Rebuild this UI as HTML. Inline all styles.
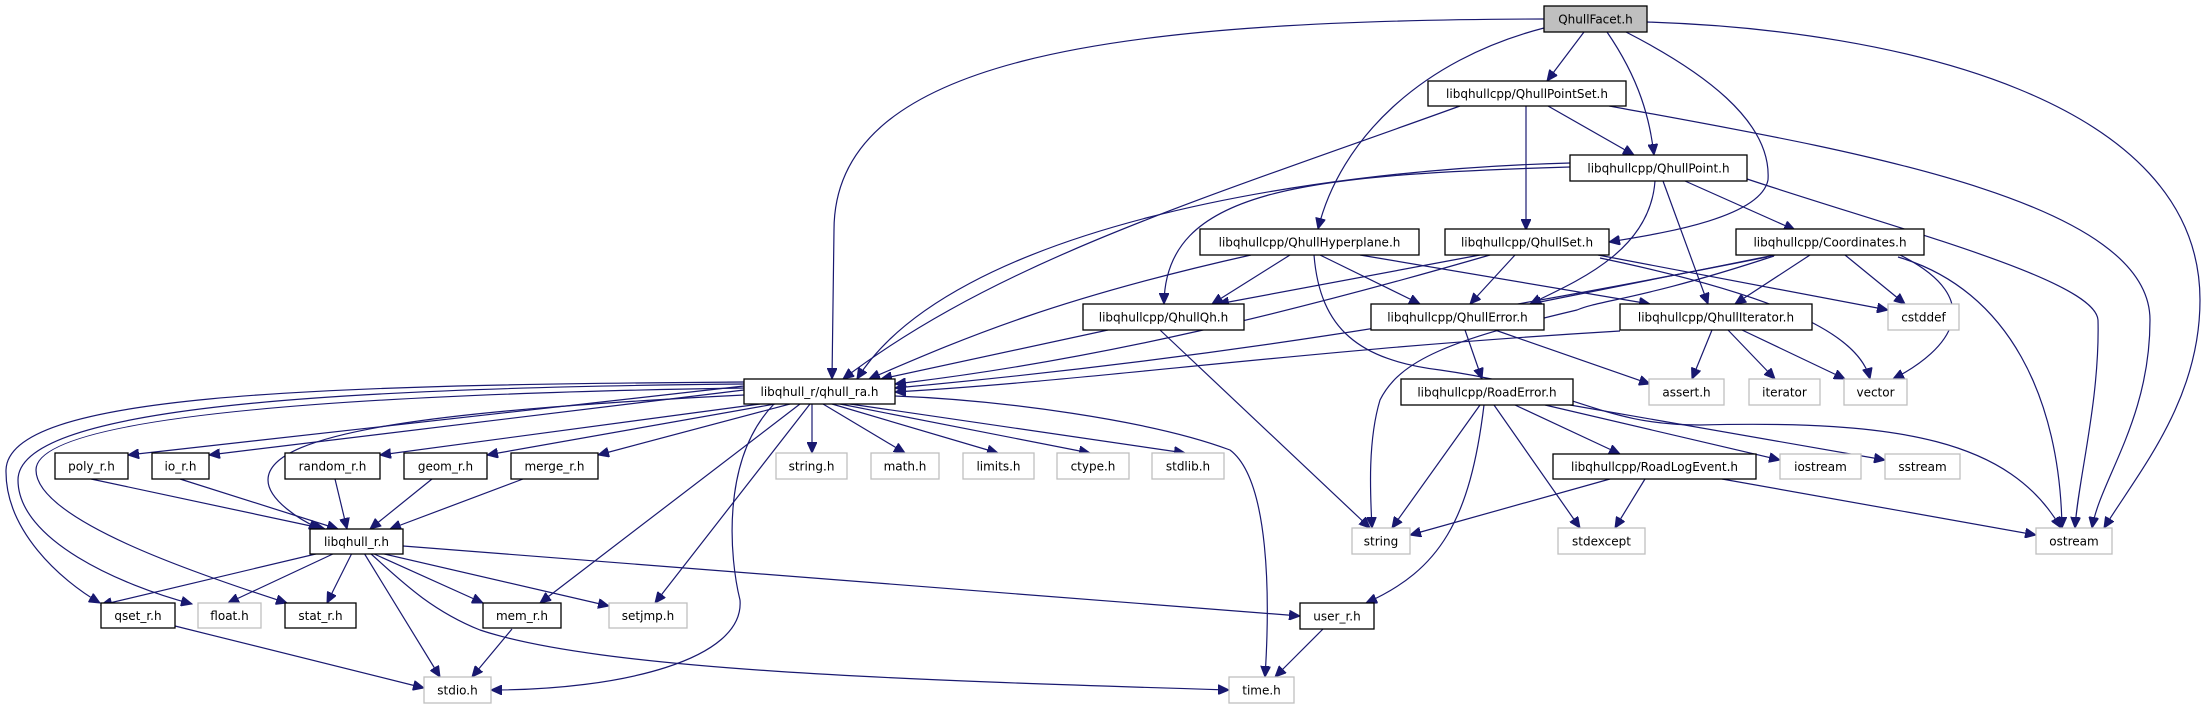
<!DOCTYPE html>
<html><head><meta charset="utf-8"><style>
html,body{margin:0;padding:0;background:#fff;}
svg{display:block;}
text{font-family:"DejaVu Sans","Liberation Sans",sans-serif;font-size:12px;fill:#000;}
.n{fill:#fff;stroke:#000;stroke-width:1.3;}
.g{fill:#fff;stroke:#bfbfbf;stroke-width:1.3;}
.e{fill:none;stroke:#191970;stroke-width:1.2;marker-end:url(#a);}
</style></head><body>
<svg width="2202" height="709" viewBox="0 0 2202 709" xmlns="http://www.w3.org/2000/svg">
<defs><marker id="a" markerUnits="userSpaceOnUse" markerWidth="12" markerHeight="10" refX="11" refY="5" orient="auto"><path d="M0,0 L11,5 L0,10 z" fill="#191970" stroke="#191970"/></marker></defs>

<!-- edges -->
<g>
<path class="e" d="M1544,19 C1100,20 834,60 834,230 L832,379"/>
<path class="e" d="M1584,32 L1547,81"/>
<path class="e" d="M1607,32 C1640,80 1650,120 1654,155"/>
<path class="e" d="M1544,28 C1420,60 1340,140 1318,229"/>
<path class="e" d="M1626,32 C1700,70 1772,120 1768,180 C1760,220 1650,235 1609,242"/>
<path class="e" d="M1647,22 C1900,30 2200,100 2200,300 C2200,400 2140,470 2104,528"/>
<path class="e" d="M1460,106 C1200,200 1000,260 843,379"/>
<path class="e" d="M1548,106 L1634,155"/>
<path class="e" d="M1526,106 L1526,230"/>
<path class="e" d="M1609,106 C1850,150 2150,200 2150,320 C2150,420 2100,480 2092,528"/>
<path class="e" d="M1570,163 C1300,170 950,230 857,379"/>
<path class="e" d="M1570,167 C1300,175 1165,190 1164,304"/>
<path class="e" d="M1655,181 C1650,250 1580,280 1530,304"/>
<path class="e" d="M1663,181 L1708,304"/>
<path class="e" d="M1685,181 L1795,230"/>
<path class="e" d="M1744,178 C1900,230 2095,280 2098,320 C2100,400 2078,480 2075,528"/>
<path class="e" d="M1251,255 C1050,300 960,340 869,379"/>
<path class="e" d="M1290,255 L1212,304"/>
<path class="e" d="M1320,255 L1420,304"/>
<path class="e" d="M1360,255 L1650,304"/>
<path class="e" d="M1314,255 C1320,330 1360,360 1440,370 C1580,390 1600,425 1700,425 C1900,420 2010,440 2061,528"/>
<path class="e" d="M1480,255 L1218,304"/>
<path class="e" d="M1515,255 L1470,304"/>
<path class="e" d="M1490,255 C1300,310 1100,360 895,384"/>
<path class="e" d="M1598,255 L1888,310"/>
<path class="e" d="M1600,258 C1800,300 1860,340 1870,379"/>
<path class="e" d="M1775,255 L1530,304"/>
<path class="e" d="M1810,255 L1735,304"/>
<path class="e" d="M1845,255 L1905,304"/>
<path class="e" d="M1900,255 C1990,300 1950,350 1893,379"/>
<path class="e" d="M1898,257 C2010,290 2060,400 2062,528"/>
<path class="e" d="M1774,256 C1640,300 1600,300 1577,310 C1450,340 1400,360 1380,400 C1368,440 1370,490 1372,528"/>
<path class="e" d="M1767,257 C1450,320 1200,360 895,388"/>
<path class="e" d="M1465,330 L1482,379"/>
<path class="e" d="M1495,330 L1650,384"/>
<path class="e" d="M1620,331 C1300,350 1100,380 895,392"/>
<path class="e" d="M1712,330 L1692,379"/>
<path class="e" d="M1728,330 L1775,379"/>
<path class="e" d="M1742,330 L1845,379"/>
<path class="e" d="M1108,330 L881,379"/>
<path class="e" d="M1160,330 L1370,528"/>
<path class="e" d="M1480,405 L1392,528"/>
<path class="e" d="M1484,405 C1470,520 1440,570 1366,603"/>
<path class="e" d="M1494,405 L1580,528"/>
<path class="e" d="M1515,405 L1620,454"/>
<path class="e" d="M1545,405 L1780,460"/>
<path class="e" d="M1570,405 L1885,460"/>
<path class="e" d="M1610,479 L1410,535"/>
<path class="e" d="M1645,479 L1615,528"/>
<path class="e" d="M1722,479 L2036,535"/>
<path class="e" d="M1323,629 L1275,677"/>
<!-- from qhull_ra -->
<path class="e" d="M744,386 L128,455"/>
<path class="e" d="M744,390 L209,455"/>
<path class="e" d="M760,404 L380,455"/>
<path class="e" d="M775,404 L487,455"/>
<path class="e" d="M790,404 L598,455"/>
<path class="e" d="M744,395 C450,410 268,430 268,480 C268,500 300,520 320,529"/>
<path class="e" d="M744,382 C300,385 8,395 6,470 C5,530 60,580 100,603"/>
<path class="e" d="M744,384 C300,388 18,410 18,480 C18,540 120,585 192,604"/>
<path class="e" d="M744,388 C300,395 36,420 36,470 C36,520 200,575 287,603"/>
<path class="e" d="M812,404 L812,453"/>
<path class="e" d="M823,404 L905,453"/>
<path class="e" d="M832,404 L998,453"/>
<path class="e" d="M840,404 L1090,453"/>
<path class="e" d="M850,404 L1185,453"/>
<path class="e" d="M800,404 L540,603"/>
<path class="e" d="M810,404 L655,603"/>
<path class="e" d="M774,404 C720,460 730,560 740,600 C745,660 620,690 491,690"/>
<path class="e" d="M895,396 C1000,400 1150,420 1230,450 C1270,480 1270,600 1265,677"/>
<!-- from libqhull_r.h -->
<path class="e" d="M320,553 L101,605"/>
<path class="e" d="M335,553 L228,603"/>
<path class="e" d="M352,553 L327,603"/>
<path class="e" d="M372,553 L483,603"/>
<path class="e" d="M380,553 L609,606"/>
<path class="e" d="M364,553 L440,677"/>
<path class="e" d="M370,553 C400,580 430,610 480,630 C600,670 900,680 1229,690"/>
<path class="e" d="M403,546 L1300,616"/>
<path class="e" d="M91,479 L325,529"/>
<path class="e" d="M180,479 L338,529"/>
<path class="e" d="M335,479 L347,529"/>
<path class="e" d="M432,479 L370,529"/>
<path class="e" d="M523,479 L390,529"/>
<path class="e" d="M175,626 L424,688"/>
<path class="e" d="M512,629 L472,677"/>
</g>

<!-- nodes -->
<g>
<rect x="1544" y="6" width="103" height="26" fill="#bfbfbf" stroke="#000" stroke-width="1.3"/><text x="1595.5" y="23.5" text-anchor="middle">QhullFacet.h</text>
<rect class="n" x="1428" y="81" width="198" height="25"/><text x="1527" y="98" text-anchor="middle">libqhullcpp/QhullPointSet.h</text>
<rect class="n" x="1570" y="155" width="177" height="26"/><text x="1658.5" y="172.5" text-anchor="middle">libqhullcpp/QhullPoint.h</text>
<rect class="n" x="1200" y="229" width="219" height="26"/><text x="1309.5" y="246.5" text-anchor="middle">libqhullcpp/QhullHyperplane.h</text>
<rect class="n" x="1445" y="229" width="164" height="26"/><text x="1527" y="246.5" text-anchor="middle">libqhullcpp/QhullSet.h</text>
<rect class="n" x="1736" y="229" width="188" height="26"/><text x="1830" y="246.5" text-anchor="middle">libqhullcpp/Coordinates.h</text>
<rect class="n" x="1083" y="304" width="161" height="26"/><text x="1163.5" y="321.5" text-anchor="middle">libqhullcpp/QhullQh.h</text>
<rect class="n" x="1371" y="304" width="173" height="26"/><text x="1457.5" y="321.5" text-anchor="middle">libqhullcpp/QhullError.h</text>
<rect class="n" x="1620" y="304" width="192" height="26"/><text x="1716" y="321.5" text-anchor="middle">libqhullcpp/QhullIterator.h</text>
<rect class="g" x="1888" y="304" width="71" height="26"/><text x="1923.5" y="321.5" text-anchor="middle">cstddef</text>
<rect class="n" x="744" y="379" width="151" height="25"/><text x="819.5" y="396" text-anchor="middle">libqhull_r/qhull_ra.h</text>
<rect class="n" x="1401" y="379" width="172" height="26"/><text x="1487" y="396.5" text-anchor="middle">libqhullcpp/RoadError.h</text>
<rect class="g" x="1649" y="379" width="75" height="26"/><text x="1686.5" y="396.5" text-anchor="middle">assert.h</text>
<rect class="g" x="1749" y="379" width="71" height="26"/><text x="1784.5" y="396.5" text-anchor="middle">iterator</text>
<rect class="g" x="1844" y="379" width="63" height="26"/><text x="1875.5" y="396.5" text-anchor="middle">vector</text>
<rect class="n" x="55" y="453" width="73" height="26"/><text x="91.5" y="470.5" text-anchor="middle">poly_r.h</text>
<rect class="n" x="152" y="453" width="57" height="26"/><text x="180.5" y="470.5" text-anchor="middle">io_r.h</text>
<rect class="n" x="285" y="453" width="95" height="26"/><text x="332.5" y="470.5" text-anchor="middle">random_r.h</text>
<rect class="n" x="404" y="453" width="83" height="26"/><text x="445.5" y="470.5" text-anchor="middle">geom_r.h</text>
<rect class="n" x="511" y="453" width="87" height="26"/><text x="554.5" y="470.5" text-anchor="middle">merge_r.h</text>
<rect class="g" x="776" y="453" width="71" height="26"/><text x="811.5" y="470.5" text-anchor="middle">string.h</text>
<rect class="g" x="871" y="453" width="68" height="26"/><text x="905" y="470.5" text-anchor="middle">math.h</text>
<rect class="g" x="963" y="453" width="71" height="26"/><text x="998.5" y="470.5" text-anchor="middle">limits.h</text>
<rect class="g" x="1057" y="453" width="72" height="26"/><text x="1093" y="470.5" text-anchor="middle">ctype.h</text>
<rect class="g" x="1152" y="453" width="72" height="26"/><text x="1188" y="470.5" text-anchor="middle">stdlib.h</text>
<rect class="n" x="1553" y="454" width="203" height="25"/><text x="1654.5" y="471" text-anchor="middle">libqhullcpp/RoadLogEvent.h</text>
<rect class="g" x="1780" y="454" width="81" height="25"/><text x="1820.5" y="471" text-anchor="middle">iostream</text>
<rect class="g" x="1885" y="454" width="75" height="25"/><text x="1922.5" y="471" text-anchor="middle">sstream</text>
<rect class="n" x="310" y="529" width="93" height="25"/><text x="356.5" y="546" text-anchor="middle">libqhull_r.h</text>
<rect class="g" x="1352" y="528" width="58" height="26"/><text x="1381" y="545.5" text-anchor="middle">string</text>
<rect class="g" x="1558" y="528" width="87" height="26"/><text x="1601.5" y="545.5" text-anchor="middle">stdexcept</text>
<rect class="g" x="2036" y="528" width="76" height="26"/><text x="2074" y="545.5" text-anchor="middle">ostream</text>
<rect class="n" x="101" y="603" width="74" height="25"/><text x="138" y="620" text-anchor="middle">qset_r.h</text>
<rect class="g" x="198" y="603" width="63" height="25"/><text x="229.5" y="620" text-anchor="middle">float.h</text>
<rect class="n" x="285" y="603" width="71" height="25"/><text x="320.5" y="620" text-anchor="middle">stat_r.h</text>
<rect class="n" x="483" y="603" width="78" height="25"/><text x="522" y="620" text-anchor="middle">mem_r.h</text>
<rect class="g" x="609" y="603" width="78" height="25"/><text x="648" y="620" text-anchor="middle">setjmp.h</text>
<rect class="n" x="1300" y="603" width="74" height="26"/><text x="1337" y="620.5" text-anchor="middle">user_r.h</text>
<rect class="g" x="424" y="677" width="67" height="26"/><text x="457.5" y="694.5" text-anchor="middle">stdio.h</text>
<rect class="g" x="1229" y="677" width="65" height="26"/><text x="1261.5" y="694.5" text-anchor="middle">time.h</text>
</g>
</svg>
</body></html>
